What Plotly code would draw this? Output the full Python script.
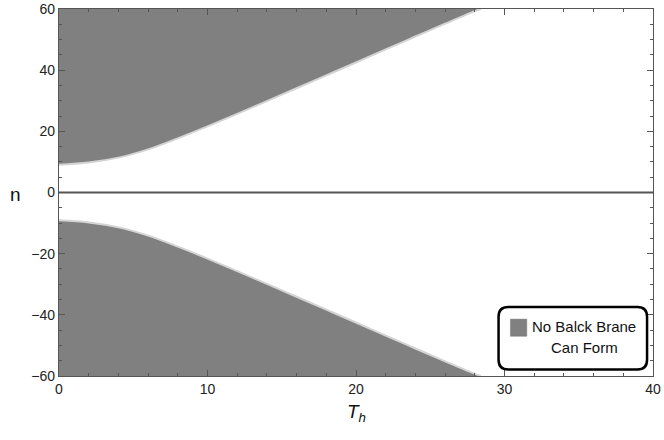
import plotly.graph_objects as go

# boundary of the region where no black brane forms
T_H = [0, 2, 4, 6, 8, 10, 12, 14, 16, 18, 20, 22, 24, 26, 28, 28.4]
N_UPPER = [9.1, 9.8, 11.4, 14.1, 17.7, 21.6, 25.7, 29.9, 34.1, 38.3, 42.5, 46.8, 51.0, 55.2, 59.3, 60.0]
N_LOWER = [-9.1, -9.8, -11.4, -14.1, -17.7, -21.6, -25.7, -29.9, -34.1, -38.3, -42.5, -46.8, -51.0, -55.2, -59.3, -60.0]
N_TOP = [60] * len(T_H)
N_BOTTOM = [-60] * len(T_H)

X_TICKS = [0, 10, 20, 30, 40]
Y_TICKS = [-60, -40, -20, 0, 20, 40, 60]

FILL = '#808080'
EDGE = '#d4d4d4'
FRAME = '#555555'

fig = go.Figure()

for limit, edge in [(N_TOP, N_UPPER), (N_BOTTOM, N_LOWER)]:
    fig.add_trace(go.Scatter(x=T_H, y=limit, mode='lines', line=dict(width=0),
                             showlegend=False, hoverinfo='skip'))
    fig.add_trace(go.Scatter(x=T_H, y=edge, mode='lines', fill='tonexty',
                             fillcolor=FILL, line=dict(color=EDGE, width=2, shape='spline'),
                             showlegend=False))

axis_common = dict(
    showgrid=False, zeroline=False, showline=True, mirror='ticks',
    linecolor=FRAME, linewidth=1.2, ticks='inside', ticklen=6,
    tickcolor=FRAME, tickwidth=1, tickfont=dict(size=14, color='#222'),
    automargin=False,
)

fig.update_xaxes(range=[0, 40], tickvals=X_TICKS, **axis_common,
                 minor=dict(ticks='inside', dtick=2, ticklen=3, tickcolor=FRAME))
fig.update_yaxes(range=[-60, 60], tickvals=Y_TICKS, **axis_common,
                 minor=dict(ticks='inside', dtick=5, ticklen=3, tickcolor=FRAME))

# zero line drawn across the frame
fig.add_shape(type='line', xref='paper', x0=0, x1=1, yref='y', y0=0, y1=0,
              line=dict(color=FRAME, width=1.8), layer='above')

# rounded legend box
x0, x1, y0, y1 = 29.6, 39.6, -57.9, -37.4
rx, ry = 0.65, 3.2
path = (f'M {x0+rx},{y0} L {x1-rx},{y0} Q {x1},{y0} {x1},{y0+ry} '
        f'L {x1},{y1-ry} Q {x1},{y1} {x1-rx},{y1} L {x0+rx},{y1} '
        f'Q {x0},{y1} {x0},{y1-ry} L {x0},{y0+ry} Q {x0},{y0} {x0+rx},{y0} Z')
fig.add_shape(type='path', path=path, xref='x', yref='y',
              line=dict(color='black', width=2.5), fillcolor='white', layer='above')
fig.add_shape(type='rect', xref='x', yref='y', x0=30.4, x1=31.5, y0=-47.0, y1=-41.4,
              fillcolor=FILL, line=dict(color='#777', width=0.5), layer='above')
fig.add_annotation(x=31.75, y=-43.9, xref='x', yref='y', text='No Balck Brane',
                   showarrow=False, xanchor='left', font=dict(size=15, color='#111'))
fig.add_annotation(x=35.4, y=-50.8, xref='x', yref='y', text='Can Form',
                   showarrow=False, xanchor='center', font=dict(size=15, color='#111'))

# axis titles
fig.add_annotation(x=-0.086, y=0.495, xref='paper', yref='paper', text='n',
                   showarrow=False, font=dict(size=19, color='#111'))
fig.add_annotation(x=0.5, y=-0.10, xref='paper', yref='paper',
                   text='<i>T</i><sub><i>h</i></sub>', showarrow=False,
                   yanchor='middle', font=dict(size=19, color='#111'))

fig.update_layout(
    width=664, height=440,
    margin=dict(l=59, r=11, t=9, b=64, autoexpand=False),
    plot_bgcolor='white', paper_bgcolor='white',
    font=dict(family='Liberation Sans, Arial, sans-serif'),
    showlegend=False,
)

# drop the default page margin so the figure sits at the window's corner
fig.write_html('out.html', config={'displayModeBar': False},
               post_script="document.body.style.margin='0';")
